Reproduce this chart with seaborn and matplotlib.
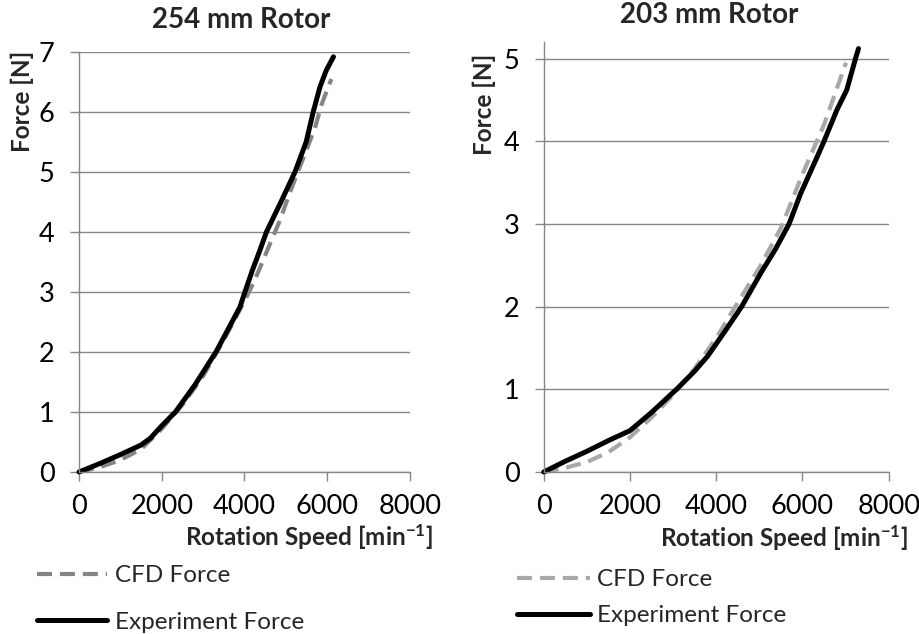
import matplotlib
matplotlib.use("Agg")
import matplotlib.pyplot as plt
import seaborn as sns
import pandas as pd

# ---- data ----
# 254 mm rotor
exp254_speed = [0, 500, 1000, 1500, 1720, 2000, 2330, 2800, 3310, 3620, 3890, 4010, 4200, 4375, 4530, 4880, 5220, 5490, 5660, 5825, 5980, 6150]
exp254_force = [0, 0.14, 0.29, 0.45, 0.56, 0.77, 1.0, 1.45, 2.0, 2.4, 2.75, 3.0, 3.38, 3.7, 4.0, 4.5, 5.0, 5.5, 6.0, 6.42, 6.7, 6.92]
cfd254_speed = [0, 500, 1000, 1500, 2000, 2500, 3000, 3500, 4000, 4250, 4420, 4620, 4860, 5060, 5260, 5460, 5700, 5870, 6100]
cfd254_force = [0, 0.08, 0.2, 0.38, 0.72, 1.12, 1.6, 2.2, 2.85, 3.2, 3.48, 3.81, 4.2, 4.59, 4.95, 5.3, 5.73, 6.14, 6.55]

# 203 mm rotor
exp203_speed = [0, 500, 1000, 1500, 2000, 2500, 3080, 3500, 3800, 4200, 4590, 5050, 5380, 5690, 5960, 6340, 6500, 6800, 7027, 7230, 7300]
exp203_force = [0, 0.13, 0.25, 0.38, 0.5, 0.72, 1.0, 1.22, 1.4, 1.7, 2.0, 2.42, 2.7, 3.0, 3.37, 3.81, 4.0, 4.38, 4.62, 5.0, 5.12]
cfd203_speed = [0, 500, 1000, 1500, 2000, 2500, 3000, 3500, 4000, 4500, 5000, 5500, 6000, 6500, 7010]
cfd203_force = [0, 0.05, 0.12, 0.24, 0.42, 0.66, 0.93, 1.25, 1.62, 2.05, 2.47, 2.95, 3.6, 4.2, 4.95]

titles = ["254 mm Rotor", "203 mm Rotor"]
x_ticks = [0, 2000, 4000, 6000, 8000]
labels = ["CFD Force", "Experiment Force"]

sns.set_style("white")
plt.rcParams["font.family"] = ["Lato", "DejaVu Sans"]
plt.rcParams["mathtext.fontset"] = "custom"
plt.rcParams["mathtext.rm"] = "Lato"
plt.rcParams["mathtext.bf"] = "Lato:bold"
plt.rcParams["mathtext.default"] = "regular"

W, H = 920, 634
fig = plt.figure(figsize=(W / 100, H / 100), dpi=100)
GRAY = "#868686"

def fx(px):
    return px / W

def fy(py):
    return 1 - py / H

ax1 = fig.add_axes([fx(79), fy(472), (410 - 79) / W, (472 - 52) / H])
ax2 = fig.add_axes([fx(543.7), fy(472), (888.7 - 543.7) / W, (472 - 42) / H])

panels = [
    (ax1, exp254_speed, exp254_force, cfd254_speed, cfd254_force, "#858585", (0, 7), range(0, 8)),
    (ax2, exp203_speed, exp203_force, cfd203_speed, cfd203_force, "#a8a8a8", (0, 5.2), range(0, 6)),
]

for ax, ex, ey, cx, cy, ccol, ylim, yt in panels:
    dcfd = pd.DataFrame({"speed": cx, "force": cy})
    dexp = pd.DataFrame({"speed": ex, "force": ey})
    sns.lineplot(data=dcfd, x="speed", y="force", ax=ax, color=ccol, lw=3.0,
                 linestyle=(0, (3.6, 1.9)), sort=False, estimator=None, clip_on=False,
                 label=labels[0], legend=False)
    sns.lineplot(data=dexp, x="speed", y="force", ax=ax, color="black", lw=3.6,
                 sort=False, estimator=None, clip_on=False, label=labels[1], legend=False,
                 solid_capstyle="round", solid_joinstyle="round")
    ax.set_xlim(0, 8000)
    ax.set_ylim(*ylim)
    ax.set_xticks(x_ticks)
    ax.set_yticks(list(yt))
    ax.set_xlabel("")
    ax.set_ylabel("")
    ax.yaxis.grid(True, color=GRAY, lw=1.0)
    ax.xaxis.grid(False)
    for s in ["top", "right"]:
        ax.spines[s].set_visible(False)
    for s in ["left", "bottom"]:
        ax.spines[s].set_color(GRAY)
        ax.spines[s].set_linewidth(1.0)
    ax.tick_params(axis="both", length=6.5, width=1.0, color=GRAY, labelsize=19.5,
                   labelcolor="black", direction="out")
    ax.tick_params(axis="y", left=True, pad=11)
    ax.tick_params(axis="x", bottom=True, pad=9)

# titles
fig.text(fx(241), fy(20), titles[0], ha="center", va="center", fontsize=20, fontweight="bold")
fig.text(fx(709), fy(15), titles[1], ha="center", va="center", fontsize=20, fontweight="bold")

# axis labels
for xr, yc in [(433, 537), (908, 538)]:
    fig.text(fx(xr), fy(yc), r"Rotation Speed [min$^{-1}$]", ha="right", va="center",
             fontsize=17.5, fontweight="bold")
for xc, yt_ in [(22, 51), (484, 54)]:
    fig.text(fx(xc), fy(yt_), "Force [N]", ha="center", va="top", rotation=90,
             fontsize=17.5, fontweight="bold")

# legends
for ax, (lx, ly), lsp, hl in [(ax1, (37, 565), 1.05, 2.9), (ax2, (517, 569), 0.62, 3.0)]:
    handles = ax.get_lines()[:2]
    ax.legend(handles, labels, loc="upper left", bbox_to_anchor=(fx(lx), fy(ly)),
              bbox_transform=fig.transFigure, frameon=False, fontsize=17.5,
              handlelength=hl, handletextpad=0.3, labelspacing=lsp,
              borderpad=0, borderaxespad=0)

fig.savefig("out.png", dpi=100)
